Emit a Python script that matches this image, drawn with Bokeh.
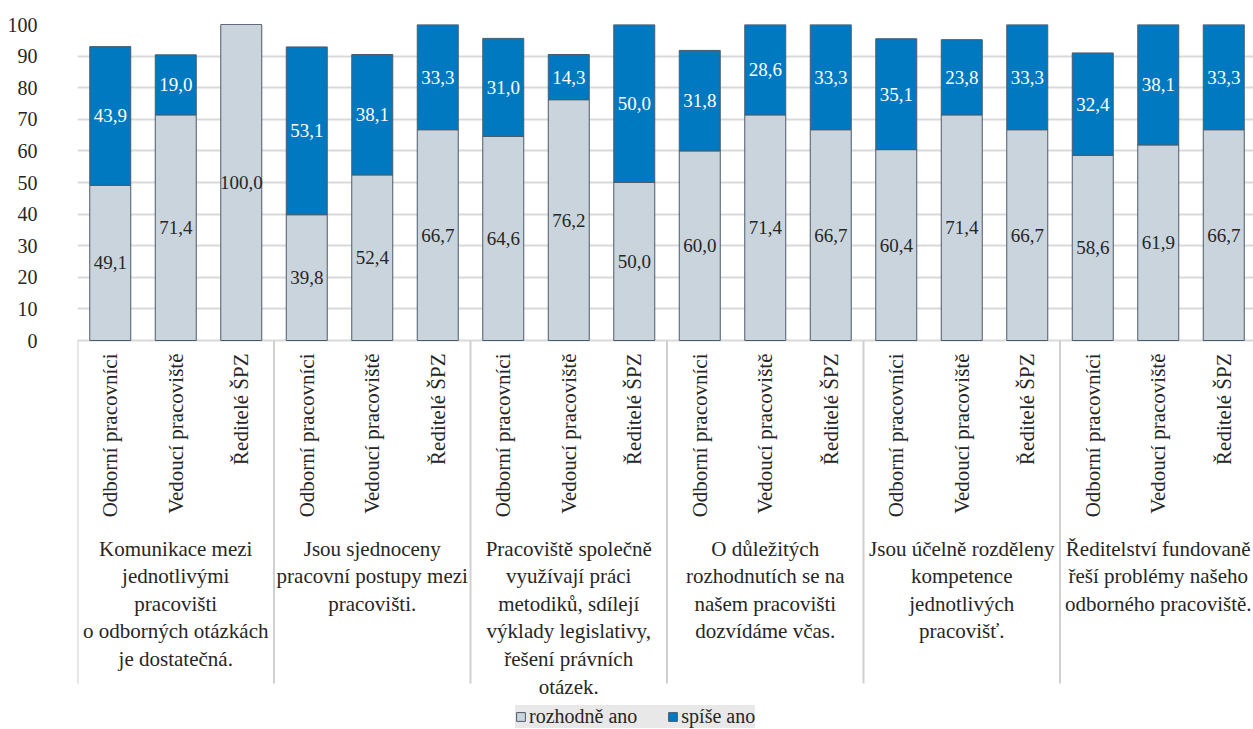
from bokeh.plotting import figure
from bokeh.models import ColumnDataSource, FixedTicker, Legend, LegendItem
from bokeh.core.properties import value
from bokeh.embed import file_html
from bokeh.resources import INLINE
import math

# ---- data ----
subgroups = ["Odborní pracovníci", "Vedoucí pracoviště", "Ředitelé ŠPZ"]
groups = [
    "Komunikace mezi\njednotlivými\npracovišti\no odborných otázkách\nje dostatečná.",
    "Jsou sjednoceny\npracovní postupy mezi\npracovišti.",
    "Pracoviště společně\nvyužívají práci\nmetodiků, sdílejí\nvýklady legislativy,\nřešení právních\notázek.",
    "O důležitých\nrozhodnutích se na\nnašem pracovišti\ndozvídáme včas.",
    "Jsou účelně rozděleny\nkompetence\njednotlivých\npracovišť.",
    "Ředitelství fundovaně\nřeší problémy našeho\nodborného pracoviště.",
]
rozhodne_ano = [49.1, 71.4, 100.0, 39.8, 52.4, 66.7, 64.6, 76.2, 50.0,
                60.0, 71.4, 66.7, 60.4, 71.4, 66.7, 58.6, 61.9, 66.7]
spise_ano = [43.9, 19.0, 0.0, 53.1, 38.1, 33.3, 31.0, 14.3, 50.0,
             31.8, 28.6, 33.3, 35.1, 23.8, 33.3, 32.4, 38.1, 33.3]
series_names = ["rozhodně ano", "spíše ano"]
y_ticks = list(range(0, 101, 10))

# ---- styles ----
FONT_NAME = "Liberation Serif"
FONT = value(FONT_NAME)
LIGHT = "#CAD4DC"
BLUE = "#0079C1"
EDGE = "#4B5B6B"
GRID = "#D9D9D9"
TXT = "#262626"

n = len(rozhodne_ano)
xs = [i + 0.5 for i in range(n)]
sub_labels = [subgroups[i % 3] for i in range(n)]

src = ColumnDataSource(dict(
    x=xs,
    r=rozhodne_ano,
    s_top=[a + b for a, b in zip(rozhodne_ano, spise_ano)],
    r_mid=[a / 2 for a in rozhodne_ano],
    r_lbl=[f"{a:.1f}".replace(".", ",") for a in rozhodne_ano],
))
s_idx = [i for i in range(n) if spise_ano[i] > 0]
src_s_lbl = ColumnDataSource(dict(
    x=[xs[i] for i in s_idx],
    y=[rozhodne_ano[i] + spise_ano[i] / 2 for i in s_idx],
    t=[f"{spise_ano[i]:.1f}".replace(".", ",") for i in s_idx],
))

W, H = 1253, 729
LEFT, TOP = 77, 24
ZERO_Y = 340
px_per_unit = (ZERO_Y - TOP) / 100
slot = 65.5
y_bottom = -(H - ZERO_Y) / px_per_unit

p = figure(width=W, height=H, output_backend="svg", toolbar_location=None,
           x_range=(0, (W - LEFT) / slot), y_range=(y_bottom, 100),
           x_axis_location=None,
           min_border_left=LEFT, min_border_top=TOP, min_border_bottom=0, min_border_right=0)
p.outline_line_color = None
p.background_fill_color = "white"
p.xgrid.visible = False
p.ygrid.ticker = FixedTicker(ticks=y_ticks)
p.ygrid.grid_line_color = GRID
p.ygrid.grid_line_width = 2

p.yaxis.ticker = FixedTicker(ticks=y_ticks)
p.yaxis.axis_line_color = None
p.yaxis.major_tick_line_color = None
p.yaxis.minor_tick_line_color = None
p.yaxis.major_label_text_font = FONT_NAME
p.yaxis.major_label_text_font_size = "20px"
p.yaxis.major_label_text_color = TXT
p.yaxis.major_label_standoff = 34

bw = 41 / slot
r1 = p.vbar(x="x", bottom=0, top="r", width=bw, source=src,
            fill_color=LIGHT, line_color=EDGE, line_width=1)
r2 = p.vbar(x="x", bottom="r", top="s_top", width=bw, source=src,
            fill_color=BLUE, line_color=EDGE, line_width=1)

p.text(x="x", y="r_mid", text="r_lbl", source=src, text_font=FONT,
       text_font_size="19px", text_color=TXT,
       text_align="center", text_baseline="middle")
p.text(x="x", y="y", text="t", source=src_s_lbl, text_font=FONT,
       text_font_size="19px", text_color="white",
       text_align="center", text_baseline="middle")

# category separators
sep_bottom = -(683 - ZERO_Y) / px_per_unit
sep_x = [3 * g for g in range(len(groups))]
p.segment(x0=sep_x, y0=[0] * len(sep_x), x1=sep_x, y1=[sep_bottom] * len(sep_x),
          line_color="#D0D0D0", line_width=2)

# sub category labels (rotated)
p.text(x=xs, y=[-(353 - ZERO_Y) / px_per_unit] * n, text=sub_labels,
       angle=math.pi / 2, text_font=FONT, text_font_size="21px",
       text_color=TXT, text_align="right", text_baseline="middle")

# group labels
p.text(x=[3 * g + 1.5 for g in range(len(groups))],
       y=[-(536 - ZERO_Y) / px_per_unit] * len(groups),
       text=groups, text_font=FONT, text_font_size="21px",
       text_color=TXT, text_align="center", text_baseline="top",
       text_line_height=1.15)

legend = Legend(items=[LegendItem(label=series_names[0], renderers=[r1]),
                       LegendItem(label=series_names[1], renderers=[r2])],
                orientation="horizontal", location=(438, 1),
                background_fill_color="#E8E8E8", background_fill_alpha=1,
                border_line_color=None, label_text_font=FONT_NAME,
                label_text_font_size="20px", label_text_color=TXT,
                glyph_width=11, glyph_height=11, label_standoff=3, spacing=30,
                padding=7, margin=0, label_height=20)
p.add_layout(legend, "center")

open("out.html", "w").write(file_html(p, INLINE))
